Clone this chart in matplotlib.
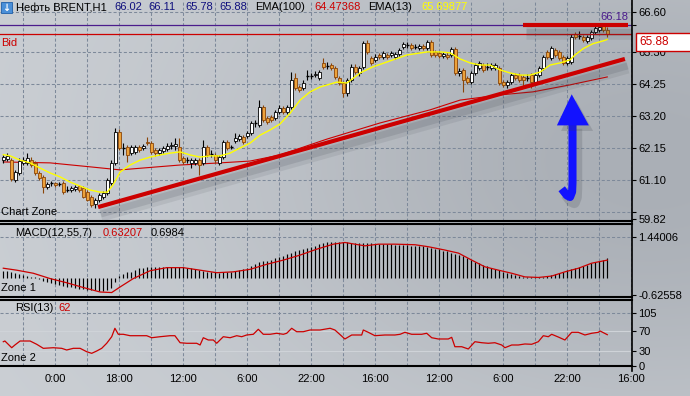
import numpy as np
import matplotlib
matplotlib.use("Agg")
import matplotlib.pyplot as plt
from matplotlib.patches import Rectangle, Polygon
from matplotlib.lines import Line2D
import matplotlib.patheffects as pe

plt.rcParams['font.family'] = ['Liberation Sans', 'DejaVu Sans']
plt.rcParams['lines.scale_dashes'] = False

# ---------------- data ----------------
opens = [61.74, 61.78, 61.74, 61.09, 61.32, 61.65, 61.65, 61.74, 61.65, 61.32,
         61.19, 60.86, 60.96, 60.99, 60.94, 60.99, 60.74, 60.76, 60.79, 60.89,
         60.83, 60.70, 60.53, 60.30, 60.43, 60.53, 60.66, 60.99, 61.65, 62.66,
         62.14, 62.17, 61.97, 62.01, 62.17, 62.14, 62.34, 62.30, 62.07, 61.97,
         62.04, 62.10, 62.20, 62.22, 62.17, 61.81, 61.74, 61.65, 61.65, 61.74,
         61.65, 62.17, 61.94, 61.91, 61.65, 61.84, 62.34, 62.17, 62.37, 62.43,
         62.50, 62.53, 62.63, 62.93, 62.89, 63.48, 63.12, 63.16, 63.12, 63.32,
         63.45, 63.32, 63.48, 64.43, 64.14, 64.11, 64.47, 64.50, 64.53, 64.43,
         64.93, 64.84, 64.86, 64.76, 64.43, 64.27, 63.94, 64.37, 64.80, 64.60,
         64.80, 65.58, 65.09, 65.03, 65.19, 65.12, 65.19, 65.19, 65.12, 65.22,
         65.45, 65.52, 65.52, 65.47, 65.42, 65.48, 65.42, 65.62, 65.29, 65.26,
         65.16, 65.20, 65.19, 65.39, 64.60, 64.70, 64.43, 64.30, 64.60, 64.76,
         64.86, 64.80, 64.76, 64.76, 64.76, 64.30, 64.21, 64.30, 64.53, 64.53,
         64.47, 64.42, 64.53, 64.30, 64.53, 64.76, 65.29, 65.09, 65.35, 65.29,
         65.12, 64.93, 64.96, 65.88, 65.80, 65.78, 65.65, 65.75, 65.94, 66.01,
         66.14, 66.02]
highs = [61.91, 61.97, 61.81, 61.42, 61.81, 61.84, 61.97, 61.84, 61.71, 61.38,
         61.25, 61.02, 61.06, 61.02, 61.02, 61.06, 60.89, 60.89, 60.92, 60.92,
         60.89, 60.76, 60.60, 60.50, 60.66, 60.73, 61.15, 61.74, 62.79, 62.76,
         62.30, 62.24, 62.24, 62.24, 62.24, 62.27, 62.50, 62.37, 62.14, 62.14,
         62.20, 62.30, 62.34, 62.47, 62.47, 61.88, 61.84, 61.81, 61.81, 61.81,
         62.40, 62.24, 62.07, 61.97, 61.91, 62.40, 62.40, 62.24, 62.63, 62.60,
         62.56, 62.70, 63.02, 63.06, 63.71, 63.55, 63.19, 63.22, 63.39, 63.55,
         63.52, 63.55, 64.63, 64.60, 64.21, 64.37, 64.70, 64.60, 64.66, 64.70,
         65.09, 64.96, 64.93, 64.83, 64.50, 64.34, 64.43, 64.89, 64.89, 64.83,
         65.65, 65.68, 65.16, 65.22, 65.26, 65.32, 65.26, 65.32, 65.29, 65.42,
         65.62, 65.62, 65.58, 65.55, 65.55, 65.55, 65.68, 65.68, 65.35, 65.32,
         65.29, 65.29, 65.45, 65.45, 64.76, 64.76, 64.50, 64.66, 64.93, 64.99,
         64.93, 64.93, 64.93, 64.93, 64.83, 64.37, 64.37, 64.60, 64.60, 64.60,
         64.53, 64.57, 64.60, 64.60, 64.83, 65.19, 65.35, 65.49, 65.42, 65.35,
         65.19, 65.16, 65.88, 65.94, 65.98, 65.85, 65.85, 66.01, 66.14, 66.17,
         66.18, 66.11]
lows = [61.65, 61.71, 61.06, 61.02, 61.25, 61.58, 61.58, 61.52, 61.25, 61.09,
        60.66, 60.79, 60.89, 60.86, 60.89, 60.63, 60.70, 60.70, 60.73, 60.70,
        60.50, 60.40, 60.20, 60.17, 60.37, 60.47, 60.60, 60.92, 61.58, 62.07,
        61.91, 61.68, 61.91, 61.94, 62.01, 62.07, 62.24, 61.94, 61.88, 61.91,
        61.97, 62.04, 62.10, 62.07, 61.68, 61.61, 61.65, 61.48, 61.58, 61.25,
        61.58, 61.84, 61.84, 61.65, 61.58, 61.78, 62.07, 62.10, 62.30, 62.37,
        62.27, 62.47, 62.56, 62.83, 62.83, 62.99, 62.93, 62.99, 63.06, 63.25,
        63.25, 63.25, 63.42, 64.04, 63.98, 64.04, 64.37, 64.40, 64.47, 64.37,
        64.73, 64.73, 64.70, 64.40, 64.21, 63.81, 63.84, 64.30, 64.57, 64.50,
        64.73, 65.22, 64.86, 64.96, 65.06, 65.06, 65.06, 65.12, 65.06, 65.16,
        65.39, 65.42, 65.35, 65.39, 65.35, 65.35, 65.35, 65.12, 65.12, 65.09,
        65.09, 65.06, 65.12, 64.53, 64.50, 63.98, 64.24, 64.24, 64.53, 64.70,
        64.63, 64.70, 64.70, 64.70, 64.21, 64.14, 64.11, 64.24, 64.37, 64.30,
        64.17, 64.34, 64.11, 64.24, 64.47, 64.70, 65.06, 65.03, 65.12, 65.03,
        64.86, 64.86, 64.89, 65.71, 65.71, 65.62, 65.58, 65.68, 65.88, 65.94,
        65.94, 65.78]
closes = [61.84, 61.88, 61.12, 61.35, 61.71, 61.74, 61.81, 61.58, 61.32, 61.15,
          60.86, 60.96, 60.99, 60.92, 60.96, 60.70, 60.77, 60.83, 60.86, 60.76,
          60.53, 60.43, 60.27, 60.43, 60.60, 60.66, 61.09, 61.65, 62.66, 62.14,
          62.15, 61.91, 62.17, 62.17, 62.07, 62.20, 62.30, 62.01, 61.97, 62.07,
          62.14, 62.20, 62.24, 62.26, 61.74, 61.68, 61.72, 61.74, 61.74, 61.58,
          62.17, 61.91, 61.97, 61.74, 61.84, 62.34, 62.14, 62.17, 62.47, 62.53,
          62.34, 62.63, 62.96, 62.96, 63.48, 63.06, 62.99, 63.06, 63.32, 63.45,
          63.32, 63.48, 64.37, 64.11, 64.04, 64.27, 64.50, 64.48, 64.58, 64.63,
          64.80, 64.82, 64.76, 64.47, 64.27, 63.94, 64.37, 64.80, 64.63, 64.76,
          65.58, 65.29, 64.93, 65.12, 65.12, 65.26, 65.12, 65.24, 65.22, 65.35,
          65.55, 65.54, 65.42, 65.45, 65.48, 65.42, 65.62, 65.19, 65.19, 65.16,
          65.22, 65.14, 65.39, 64.60, 64.66, 64.37, 64.30, 64.60, 64.86, 64.93,
          64.70, 64.78, 64.86, 64.86, 64.27, 64.21, 64.30, 64.53, 64.43, 64.37,
          64.37, 64.44, 64.30, 64.53, 64.76, 65.12, 65.12, 65.42, 65.19, 65.09,
          64.93, 65.09, 65.78, 65.78, 65.83, 65.68, 65.78, 65.94, 66.07, 66.11,
          66.01, 65.88]

ema13_x = [0, 1.7, 4.2, 6.7, 9.2, 11.7, 14.2, 16.7, 19.2, 21.7, 24.2, 26, 27.4, 29.2,
           31.7, 34.2, 36.7, 39.2, 41.7, 44.2, 46.7, 49.2, 51.7, 54.2, 56.7, 59.2,
           61.7, 64.2, 66.7, 69.2, 71.7, 74.2, 76.7, 79.2, 83.4, 85.9, 89.2, 92.4,
           95.9, 100.9, 105.9, 109.2, 111.7, 114.2, 116.7, 119.2, 121.7, 124.2,
           126.7, 129.2, 131.7, 134.2, 136.7, 139.2, 141.7, 143, 145, 147.4, 149.9, 151]
ema13_y = [61.92, 61.88, 61.74, 61.65, 61.48, 61.32, 61.19, 61.02, 60.89, 60.76, 60.69,
           60.69, 60.92, 61.35, 61.58, 61.74, 61.84, 61.91, 61.97, 62.01, 61.91, 61.84,
           61.88, 61.88, 61.97, 62.14, 62.30, 62.56, 62.73, 62.93, 63.28, 63.71, 63.98,
           64.14, 64.30, 64.27, 64.60, 64.80, 64.96, 65.19, 65.29, 65.29, 65.26, 65.06,
           64.93, 64.86, 64.86, 64.70, 64.60, 64.53, 64.53, 64.63, 64.86, 64.93, 65.03,
           65.20, 65.40, 65.56, 65.65, 65.70]

ema100_x = [0, 11.7, 21.7, 29.2, 44.2, 54.2, 61.7, 69.2, 80.9, 94.2, 106.7, 114.2,
            124.2, 132.4, 141.7, 151]
ema100_y = [61.68, 61.65, 61.52, 61.42, 61.58, 61.65, 61.71, 61.91, 62.43, 62.96, 63.39,
            63.71, 63.88, 63.98, 64.21, 64.47]

macd_hist = [0.24, 0.24, 0.19, 0.16, 0.12, 0.09, 0.06, 0.04, 0.01, -0.04,
             -0.11, -0.16, -0.19, -0.21, -0.25, -0.29, -0.32, -0.34, -0.36, -0.39,
             -0.41, -0.43, -0.44, -0.45, -0.46, -0.47, -0.44, -0.36, -0.16, 0.06,
             0.15, 0.19, 0.22, 0.28, 0.33, 0.36, 0.38, 0.39, 0.39, 0.39,
             0.39, 0.39, 0.39, 0.39, 0.39, 0.38, 0.36, 0.33, 0.30, 0.27,
             0.25, 0.22, 0.20, 0.19, 0.18, 0.19, 0.20, 0.22, 0.24, 0.27,
             0.31, 0.36, 0.41, 0.48, 0.55, 0.59, 0.61, 0.65, 0.70, 0.74,
             0.78, 0.84, 0.90, 0.95, 0.99, 1.03, 1.08, 1.11, 1.15, 1.19,
             1.23, 1.26, 1.28, 1.29, 1.29, 1.28, 1.26, 1.25, 1.24, 1.24,
             1.24, 1.24, 1.23, 1.22, 1.21, 1.20, 1.20, 1.19, 1.18, 1.17,
             1.17, 1.16, 1.15, 1.14, 1.13, 1.12, 1.10, 1.07, 1.04, 1.01,
             0.97, 0.94, 0.90, 0.86, 0.82, 0.78, 0.70, 0.63, 0.58, 0.52,
             0.47, 0.42, 0.36, 0.30, 0.26, 0.20, 0.17, 0.13, 0.09, 0.06,
             0.04, 0.02, 0.02, 0.01, 0.02, 0.04, 0.07, 0.10, 0.14, 0.17,
             0.21, 0.26, 0.30, 0.34, 0.37, 0.42, 0.47, 0.51, 0.55, 0.60,
             0.65, 0.70]
macd_sig_x = [0, 3.35, 7.5, 11.7, 15.85, 20, 24.2, 27.1, 29.2, 32.5, 36.7, 40.85, 45,
              49.2, 53.35, 57.5, 61.7, 65.85, 70, 74.2, 78.35, 82.5, 85.4, 90.4, 93.8,
              97.9, 102.9, 106.2, 110.4, 113.8, 117.1, 120.4, 123.8, 127.1, 130.4,
              133.8, 137.1, 140.4, 143.8, 147.1, 151]
macd_sig_y = [0.34, 0.27, 0.16, -0.03, -0.18, -0.35, -0.51, -0.53, -0.33, -0.03, 0.25,
              0.36, 0.36, 0.27, 0.18, 0.21, 0.30, 0.48, 0.63, 0.81, 1.02, 1.20, 1.26,
              1.14, 1.20, 1.20, 1.18, 1.11, 0.99, 0.88, 0.63, 0.39, 0.27, 0.16, 0.03,
              0.01, 0.06, 0.21, 0.34, 0.52, 0.63]

rsi_x = [0, 0.4, 2.1, 2.9, 4.2, 6.7, 8.35, 10, 12.5, 14.6, 15.85, 17.5, 19.2, 20.85,
         22.1, 23.35, 24.6, 25.85, 27.1, 27.9, 28.75, 30, 31.7, 35.85, 37.1, 39.2,
         41.7, 42.9, 44.2, 45.85, 48.35, 49.2, 50, 51.25, 52.5, 53.35, 55, 56.7,
         58.35, 59.6, 60.85, 62.5, 63.75, 65, 66.7, 68.35, 70, 70.85, 72.1, 73.35,
         75, 76.7, 79.2, 81.7, 82.9, 85.4, 87.1, 89.6, 90, 91.25, 92.9, 95.4, 97.9,
         99.2, 100.4, 102.1, 104.6, 105.85, 107.1, 108.75, 111.25, 112.1, 112.9,
         114.6, 116.25, 117.9, 119.6, 121.25, 122.9, 124.6, 125.4, 127.1, 128.75,
         130.4, 132.1, 133.75, 135, 136.25, 137.1, 138.75, 140.4, 142.1, 143.75,
         145.4, 147.1, 148.75, 149.2, 151]
rsi_y = [48.1, 49.5, 36.2, 41.6, 49.5, 49.5, 43.0, 35.0, 36.2, 35.0, 31.7, 35.0, 35.0,
         28.3, 25.1, 29.7, 35.0, 45.0, 58.0, 74.7, 62.8, 62.8, 60.0, 60.0, 56.0, 58.0,
         60.0, 60.0, 46.1, 45.0, 45.0, 41.6, 56.0, 51.5, 51.5, 45.0, 58.0, 56.0, 60.0,
         58.0, 61.4, 62.8, 72.7, 62.8, 62.8, 64.8, 62.8, 64.8, 74.7, 67.9, 67.9, 71.3,
         71.3, 74.7, 71.3, 53.5, 61.4, 61.4, 71.3, 66.7, 60.0, 61.4, 61.4, 62.8, 66.7,
         62.8, 62.8, 64.8, 56.0, 53.5, 53.5, 56.8, 38.2, 38.2, 33.7, 48.1, 46.1, 45.0,
         46.1, 41.6, 36.2, 41.6, 41.6, 43.6, 43.0, 48.1, 60.0, 58.0, 62.8, 57.4, 51.5,
         66.7, 66.7, 61.4, 64.8, 66.7, 69.3, 62.0]

time_labels = ["0:00", "18:00", "12:00", "6:00", "22:00", "16:00", "12:00", "6:00", "22:00", "16:00"]
time_label_bars = [13, 29, 45, 61, 77, 93, 109, 125, 141, 157]
grid_bars = [5, 13, 21, 29, 37, 45, 53, 61, 69, 77, 85, 93, 101, 109, 117, 125, 133, 141, 149, 157]

price_ticks = [66.60, 65.30, 64.25, 63.20, 62.15, 61.10, 59.82]
price_grid = [66.60, 65.30, 64.25, 63.20, 62.15, 61.10, 60.05]
macd_ticks = [1.44006, -0.62558]
rsi_ticks = [105, 70, 30, 0]

bid_price = 65.88
high_level = 66.18
trend_x = [23.7, 155.4]
trend_y = [60.20, 65.06]
resist_x = [129.9, 156.2]
resist_y = [66.18, 66.18]

header_ohlc = ["66.02", "66.11", "65.78", "65.88"]
ema100_last = "64.47368"
ema13_last = "65.69877"
macd_main_last = "0.63207"
macd_sig_last = "0.6984"
rsi_last = "62"

# ---------------- figure ----------------
W, H = 690, 396
fig = plt.figure(figsize=(W / 100, H / 100), dpi=100)


def fbox(x0, y0, x1, y1):
    return [x0 / W, 1 - y1 / H, (x1 - x0) / W, (y1 - y0) / H]


def ftext(x, y, s, color="black", size=8, ha="left", **kw):
    fig.text(x / W, 1 - y / H, s, color=color, fontsize=size, ha=ha, va="center", **kw)


# background gradient
bgax = fig.add_axes([0, 0, 1, 1], zorder=-10)
yy, xx = np.mgrid[0:H, 0:W]
light = np.array([204, 208, 213]) / 255.0
dark = np.array([34, 33, 31]) / 255.0
g = np.exp(-(((xx - 650) / 300.0) ** 2 / 2 + ((yy - 160) / 200.0) ** 2 / 2))
img = light[None, None, :] - g[..., None] * dark[None, None, :]
bgax.imshow(np.clip(img, 0, 1), extent=[0, W, H, 0], aspect="auto", interpolation="bilinear")
bgax.set_xlim(0, W)
bgax.set_ylim(H, 0)
bgax.axis("off")

XL = (-0.825, 157.175)
GRID_C = "#7d899a"
DASH = (2.2, 1.5)
RED = "#cc0000"
BEAR_FACE = "#eda23a"
BEAR_EDGE = "#8a4508"


def style_panel(a, top_spine):
    a.set_facecolor("none")
    a.set_xlim(*XL)
    for s in ("left", "right"):
        a.spines[s].set_visible(False)
    a.spines["top"].set_visible(top_spine)
    a.spines["top"].set_linewidth(1.5)
    a.spines["bottom"].set_linewidth(1.5)
    a.yaxis.tick_right()
    a.tick_params(axis="y", direction="out", length=3, width=0.8, pad=1.5,
                  labelsize=8, colors="black")
    a.set_xticks([])
    for b in grid_bars:
        a.axvline(b, color=GRID_C, lw=0.75, dashes=DASH, zorder=1)


# ---- main price panel ----
ax = fig.add_axes(fbox(0, 0, 632, 221))
style_panel(ax, False)
ax.set_ylim(59.743, 66.994)
ax.set_yticks(price_ticks)
ax.set_yticklabels(["%.2f" % v for v in price_ticks])
ax.set_yticks([high_level, 60.05], minor=True)
ax.tick_params(axis="y", which="minor", direction="out", length=3, width=0.8)
for v in price_grid:
    ax.axhline(v, color=GRID_C, lw=0.75, dashes=DASH, zorder=1)

ax.plot(ema100_x, ema100_y, color=RED, lw=0.8, zorder=3)

for i, (o, h, l, c) in enumerate(zip(opens, highs, lows, closes)):
    if abs(c - o) < 0.035:
        ax.vlines(i, l, h, color="black", lw=0.8, zorder=4)
        ax.hlines((o + c) / 2, i - 0.42, i + 0.42, color="black", lw=1.0, zorder=5)
    elif c > o:
        ax.vlines(i, l, h, color="black", lw=0.8, zorder=4)
        ax.add_patch(Rectangle((i - 0.4, o), 0.8, c - o, fc="white", ec="black",
                               lw=0.6, zorder=5))
    else:
        ax.vlines(i, l, h, color=BEAR_EDGE, lw=0.8, zorder=4)
        ax.add_patch(Rectangle((i - 0.4, c), 0.8, o - c, fc=BEAR_FACE, ec=BEAR_EDGE,
                               lw=0.6, zorder=5))

ax.plot(ema13_x, ema13_y, color="#ffff00", lw=1.0, zorder=6)
ax.axhline(high_level, color="#4b1c8c", lw=0.9, zorder=6)
ax.axhline(bid_price, color=RED, lw=0.9, zorder=6)

shadow = [pe.SimpleLineShadow(offset=(2, -6), shadow_color="#3a3f48", alpha=0.10, linewidth=9),
          pe.SimpleLineShadow(offset=(2, -5), shadow_color="#3a3f48", alpha=0.14, linewidth=5),
          pe.Normal()]
ax.plot(trend_x, trend_y, color=RED, lw=3.0, solid_capstyle="butt", zorder=7,
        path_effects=shadow)
ax.plot(resist_x, resist_y, color=RED, lw=3.0, solid_capstyle="butt", zorder=7,
        path_effects=shadow)

# blue arrow annotation
arrow_head = [(142.1, 63.90), (138.4, 62.88), (146.4, 62.88)]
shaft_x = [142.3, 142.3, 142.2, 141.7, 140.9, 139.6]
shaft_y = [62.95, 61.00, 60.70, 60.53, 60.58, 60.80]
arrow_shadow = [pe.SimpleLineShadow(offset=(3, -4), shadow_color="#3a3f48",
                                    alpha=0.18, linewidth=8), pe.Normal()]
ax.plot(shaft_x, shaft_y, color="#1212ff", lw=5.8, solid_capstyle="butt",
        solid_joinstyle="round", zorder=8, path_effects=arrow_shadow)
ax.add_patch(Polygon(arrow_head, closed=True, fc="#1212ff", ec="none", zorder=8,
                     path_effects=[pe.SimplePatchShadow(offset=(3, -4),
                                                        shadow_rgbFace="#3a3f48", alpha=0.18),
                                   pe.Normal()]))

# ---- MACD panel ----
ax2 = fig.add_axes(fbox(0, 224, 632, 297))
style_panel(ax2, True)
ax2.set_ylim(-0.689, 1.921)
ax2.set_yticks(macd_ticks)
ax2.set_yticklabels(["%.5f" % v for v in macd_ticks])
ax2.axhline(macd_ticks[0], color=GRID_C, lw=0.75, dashes=DASH, zorder=1)
ax2.vlines(range(len(macd_hist)), 0, macd_hist, color="black", lw=0.85, zorder=3)
ax2.plot(macd_sig_x, macd_sig_y, color=RED, lw=0.9, zorder=4)

# ---- RSI panel ----
ax3 = fig.add_axes(fbox(0, 300, 632, 366))
style_panel(ax3, True)
ax3.set_ylim(0, 130.7)
ax3.set_yticks(rsi_ticks)
ax3.set_yticklabels([str(v) for v in rsi_ticks])
ax3.axhline(105, color=GRID_C, lw=0.75, dashes=DASH, zorder=1)
ax3.axhline(70, color="#cfd3d8", lw=0.8, zorder=1)
ax3.axhline(30, color="#cfd3d8", lw=0.8, zorder=1)
ax3.plot(rsi_x, rsi_y, color=RED, lw=0.9, zorder=4)
ax3.set_xticks(time_label_bars)
ax3.set_xticklabels(time_labels)
ax3.tick_params(axis="x", length=0, pad=6, labelsize=8, colors="black")

# right axis line through all panels
fig.add_artist(Line2D([632 / W, 632 / W], [1 - 0 / H, 1 - 371 / H],
                      transform=fig.transFigure, color="black", lw=1.2))

# ---- texts ----
fig.add_artist(Rectangle((1 / W, 1 - 13 / H), 11 / W, 11 / H, transform=fig.transFigure,
                         fc="#4a8fd8", ec="#1f5fa8", lw=0.6))
ftext(6.5, 7.5, "↓", color="white", size=7, ha="center", weight="bold",
      family=["DejaVu Sans"])
ftext(16, 7.5, "Нефть BRENT,H1")
navy = "#10107e"
for xp, s in zip([114, 148, 185, 219], header_ohlc):
    ftext(xp, 7.5, s, color=navy)
ftext(255, 7.5, "EMA(100)")
ftext(314, 7.5, ema100_last, color=RED)
ftext(368, 7.5, "EMA(13)")
ftext(421, 7.5, ema13_last, color="#ffff00")

ftext(1, 43, "Bid", color=RED)
ftext(628, 16.5, "%.2f" % high_level, color="#4b1c8c", ha="right")
ftext(1, 212, "Chart Zone")

ftext(15, 233, "MACD(12,55,7)")
ftext(103, 233, macd_main_last, color=RED)
ftext(151, 233, macd_sig_last)
ftext(1, 288, "Zone 1")

ftext(15, 308, "RSI(13)")
ftext(58, 308, rsi_last, color=RED)
ftext(1, 358, "Zone 2")

# bid price box
fig.add_artist(Rectangle((636 / W, 1 - 51 / H), 60 / W, 18 / H, transform=fig.transFigure,
                         fc="white", ec=RED, lw=1.0, zorder=10))
fig.text(639 / W, 1 - 42 / H, "%.2f" % bid_price, color=RED, fontsize=8.5,
         va="center", ha="left", zorder=11)

fig.savefig("out.png", dpi=100)
